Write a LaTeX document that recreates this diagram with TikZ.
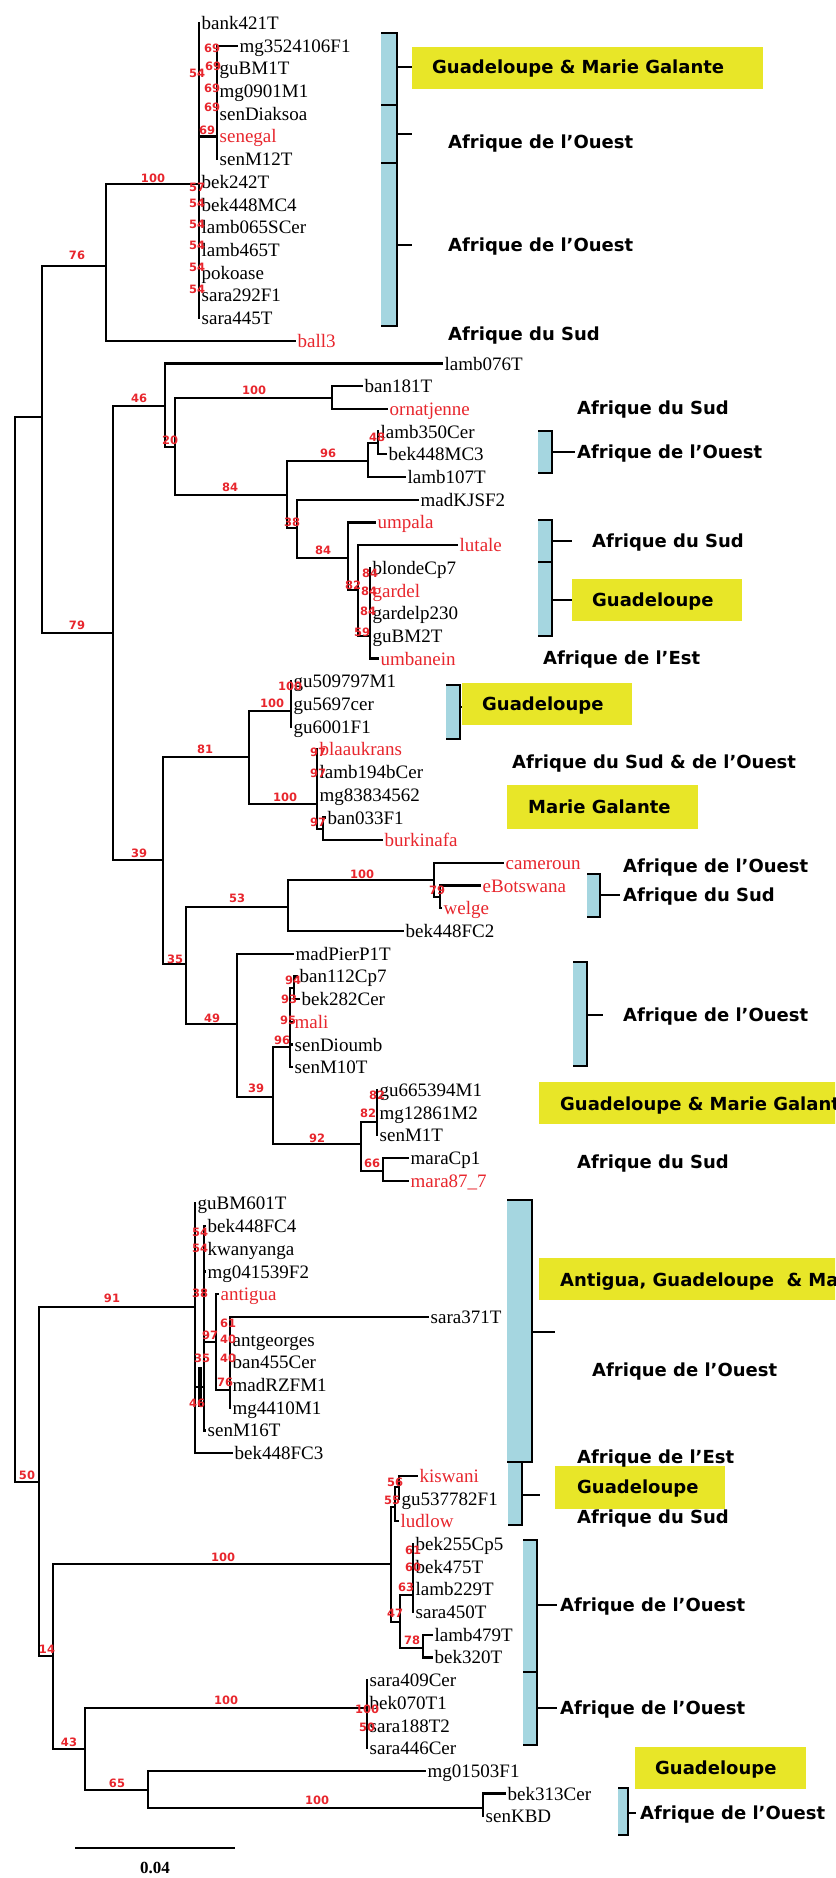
\documentclass[tikz,border=0pt]{standalone}
\usepackage{fontspec}
\setmainfont{Liberation Serif}
\newfontfamily\regfam{DejaVu Sans}
\definecolor{treered}{RGB}{232,38,45}
\definecolor{hlyellow}{RGB}{232,230,40}
\definecolor{barblue}{RGB}{165,214,224}
\newcommand\leaffont{\fontsize{19}{21}\selectfont}
\newcommand\tnode[4]{\coordinate (#1) at (#3,#4); \draw[branch] (#2 |- #1) -- (#1);}
\newcommand\tleaf[6]{\coordinate (#1) at (#3,#4); \draw[branch] (#2 |- #1) -- (#1); \node[leaflab,text=#5] (#1t) at (#1) {#6};}
\newcommand\tvert[3]{\draw[branch] (#1 |- #2) -- (#1 |- #3);}
\newcommand\bsv[4]{\node[bsval] (#1) at (#2,#3) {#4};}
\newcommand\tbrack[7]{%
  \fill[barblue] (#2,#4) rectangle (#3,#5);
  \draw[brk] (#2,#4) -- (#3,#4) -- (#3,#5) -- (#2,#5);
  \coordinate (#1) at (#3,#6); \coordinate (#1e) at (#7,#6);
  \draw[brk] (#1) -- (#1e);}
\tikzset{
  branch/.style={line width=2.3pt, line cap=rect},
  brk/.style={line width=2.2pt},
  leaflab/.style={anchor=west, inner xsep=2.5pt, inner ysep=0pt, text height=13pt, text depth=0pt, font=\leaffont},
  bsval/.style={inner sep=0pt, text=treered, text height=8.4pt, text depth=0pt, font=\regfam\bfseries\fontsize{11.5}{12}\selectfont},
  region/.style={anchor=west, inner sep=0pt, text height=13pt, text depth=0pt, font=\regfam\bfseries\fontsize{18}{20}\selectfont},
}
\begin{document}
\begin{tikzpicture}[x=1pt,y=-1pt]
\useasboundingbox (0,0) rectangle (835,1878);
\clip (0,0) rectangle (835,1878);
\fill[white] (0,0) rectangle (835,1878);
% ---------- internal nodes ----------
\coordinate (root) at (15,950);
\tnode{A}{root}{42}{417}
\tnode{AA}{root}{39}{1482}
\tnode{B}{A}{106}{266}
\tnode{D}{A}{113}{633}
\tnode{C}{B}{199}{184}
\tnode{K}{C}{217}{136.5}
\tnode{E}{D}{165}{406}
\tnode{L}{D}{163}{860}
\tnode{F}{E}{175}{447}
\tnode{G}{F}{332}{398}
\tnode{H}{F}{287}{495}
\tnode{I}{H}{368}{461}
\tnode{J}{I}{378}{443}
\tnode{O}{H}{297}{528}
\tnode{Oa}{O}{348}{558}
\tnode{Ob}{Oa}{358}{590}
\tnode{Oc}{Ob}{370}{636}
\tnode{M}{L}{249}{757}
\tnode{N}{L}{186}{964}
\tnode{P}{M}{291}{711}
\tnode{Q}{M}{317}{804}
\tnode{R}{Q}{323}{829}
\tnode{S}{N}{288}{907}
\tnode{T}{N}{237}{1024}
\tnode{U}{S}{434}{880}
\tnode{V}{U}{440}{897}
\tnode{X}{T}{273}{1097}
\tnode{Y}{X}{290}{1047}
\tnode{Ya}{Y}{294}{988}
\tnode{Z}{X}{361}{1144}
\tnode{Za}{Z}{377}{1122}
\tnode{Zb}{Z}{383}{1171}
\tnode{BB}{AA}{195}{1307}
\tnode{CC}{BB}{204}{1387}
\tnode{DD}{CC}{216}{1342}
\tnode{EE}{DD}{230}{1390}
\tnode{FF}{AA}{53}{1656}
\tnode{GG}{FF}{391}{1564}
\tnode{KK}{GG}{395}{1507}
\tnode{KL}{KK}{399}{1487}
\tnode{LL}{GG}{400}{1622}
\tnode{MM}{LL}{413}{1595}
\tnode{NN}{LL}{423}{1648}
\tnode{HH}{FF}{85}{1749}
\tnode{II}{HH}{367}{1708}
\tnode{JJ}{HH}{148}{1790}
\tnode{JK}{JJ}{483}{1808}
% ---------- leaves ----------
\tleaf{l1}{C}{199}{23.0}{black}{bank421T}
\tleaf{l2}{K}{237}{45.7}{black}{mg3524106F1}
\tleaf{l3}{K}{217}{68.4}{black}{guBM1T}
\tleaf{l4}{K}{217}{91.1}{black}{mg0901M1}
\tleaf{l5}{K}{217}{113.8}{black}{senDiaksoa}
\tleaf{l6}{K}{217}{136.5}{treered}{senegal}
\tleaf{l7}{K}{217}{159.2}{black}{senM12T}
\tleaf{l8}{C}{199}{181.9}{black}{bek242T}
\tleaf{l9}{C}{199}{204.6}{black}{bek448MC4}
\tleaf{l10}{C}{199}{227.3}{black}{lamb065SCer}
\tleaf{l11}{C}{199}{250.0}{black}{lamb465T}
\tleaf{l12}{C}{199}{272.7}{black}{pokoase}
\tleaf{l13}{C}{199}{295.4}{black}{sara292F1}
\tleaf{l14}{C}{199}{318.1}{black}{sara445T}
\tleaf{l15}{B}{295}{340.8}{treered}{ball3}
\tleaf{l16}{E}{442}{363.5}{black}{lamb076T}
\tleaf{l17}{G}{362}{386.2}{black}{ban181T}
\tleaf{l18}{G}{387}{408.9}{treered}{ornatjenne}
\tleaf{l19}{J}{378}{431.6}{black}{lamb350Cer}
\tleaf{l20}{J}{386}{454.3}{black}{bek448MC3}
\tleaf{l21}{I}{405}{477.0}{black}{lamb107T}
\tleaf{l22}{O}{418}{499.7}{black}{madKJSF2}
\tleaf{l23}{Oa}{375}{522.4}{treered}{umpala}
\tleaf{l24}{Ob}{457}{545.1}{treered}{lutale}
\tleaf{l25}{Oc}{370}{567.8}{black}{blondeCp7}
\tleaf{l26}{Oc}{370}{590.5}{treered}{gardel}
\tleaf{l27}{Oc}{370}{613.2}{black}{gardelp230}
\tleaf{l28}{Oc}{370}{635.9}{black}{guBM2T}
\tleaf{l29}{Oc}{378}{658.6}{treered}{umbanein}
\tleaf{l30}{P}{291}{681.3}{black}{gu509797M1}
\tleaf{l31}{P}{291}{704.0}{black}{gu5697cer}
\tleaf{l32}{P}{291}{726.7}{black}{gu6001F1}
\tleaf{l33}{Q}{317}{749.4}{treered}{blaaukrans}
\tleaf{l34}{Q}{317}{772.1}{black}{lamb194bCer}
\tleaf{l35}{Q}{317}{794.8}{black}{mg83834562}
\tleaf{l36}{R}{325}{817.5}{black}{ban033F1}
\tleaf{l37}{R}{382}{840.2}{treered}{burkinafa}
\tleaf{l38}{U}{503}{862.9}{treered}{cameroun}
\tleaf{l39}{V}{480}{885.6}{treered}{eBotswana}
\tleaf{l40}{V}{441}{908.3}{treered}{welge}
\tleaf{l41}{S}{403}{931.0}{black}{bek448FC2}
\tleaf{l42}{T}{293}{953.7}{black}{madPierP1T}
\tleaf{l43}{Ya}{297}{976.4}{black}{ban112Cp7}
\tleaf{l44}{Ya}{299}{999.1}{black}{bek282Cer}
\tleaf{l45}{Y}{292}{1021.8}{treered}{mali}
\tleaf{l46}{Y}{292}{1044.5}{black}{senDioumb}
\tleaf{l47}{Y}{292}{1067.2}{black}{senM10T}
\tleaf{l48}{Za}{377}{1089.9}{black}{gu665394M1}
\tleaf{l49}{Za}{377}{1112.6}{black}{mg12861M2}
\tleaf{l50}{Za}{377}{1135.3}{black}{senM1T}
\tleaf{l51}{Zb}{408}{1158.0}{black}{maraCp1}
\tleaf{l52}{Zb}{408}{1180.7}{treered}{mara87\_7}
\tleaf{l53}{BB}{195}{1203.4}{black}{guBM601T}
\tleaf{l54}{CC}{205}{1226.1}{black}{bek448FC4}
\tleaf{l55}{CC}{205}{1248.8}{black}{kwanyanga}
\tleaf{l56}{CC}{205}{1271.5}{black}{mg041539F2}
\tleaf{l57}{DD}{218}{1294.2}{treered}{antigua}
\tleaf{l58}{EE}{428}{1316.9}{black}{sara371T}
\tleaf{l59}{EE}{230}{1339.6}{black}{antgeorges}
\tleaf{l60}{EE}{230}{1362.3}{black}{ban455Cer}
\tleaf{l61}{EE}{230}{1385.0}{black}{madRZFM1}
\tleaf{l62}{EE}{230}{1407.7}{black}{mg4410M1}
\tleaf{l63}{CC}{205}{1430.4}{black}{senM16T}
\tleaf{l64}{BB}{232}{1453.1}{black}{bek448FC3}
\tleaf{l65}{KL}{417}{1475.8}{treered}{kiswani}
\tleaf{l66}{KL}{399}{1498.5}{black}{gu537782F1}
\tleaf{l67}{KK}{398}{1521.2}{treered}{ludlow}
\tleaf{l68}{MM}{413}{1543.9}{black}{bek255Cp5}
\tleaf{l69}{MM}{413}{1566.6}{black}{bek475T}
\tleaf{l70}{MM}{413}{1589.3}{black}{lamb229T}
\tleaf{l71}{MM}{413}{1612.0}{black}{sara450T}
\tleaf{l72}{NN}{432}{1634.7}{black}{lamb479T}
\tleaf{l73}{NN}{432}{1657.4}{black}{bek320T}
\tleaf{l74}{II}{367}{1680.1}{black}{sara409Cer}
\tleaf{l75}{II}{367}{1702.8}{black}{bek070T1}
\tleaf{l76}{II}{367}{1725.5}{black}{sara188T2}
\tleaf{l77}{II}{367}{1748.2}{black}{sara446Cer}
\tleaf{l78}{JJ}{425}{1770.9}{black}{mg01503F1}
\tleaf{l79}{JK}{505}{1793.6}{black}{bek313Cer}
\tleaf{l80}{JK}{483}{1816.3}{black}{senKBD}
% ---------- verticals ----------
\tvert{root}{A}{AA}
\tvert{A}{B}{D}
\tvert{B}{C}{l15}
\tvert{C}{l1}{l14}
\tvert{K}{l2}{l7}
\tvert{D}{E}{L}
\tvert{E}{l16}{F}
\tvert{F}{G}{H}
\tvert{G}{l17}{l18}
\tvert{H}{I}{O}
\tvert{I}{J}{l21}
\tvert{J}{l19}{l20}
\tvert{O}{l22}{Oa}
\tvert{Oa}{l23}{Ob}
\tvert{Ob}{l24}{Oc}
\tvert{Oc}{l25}{l29}
\tvert{L}{M}{N}
\tvert{M}{P}{Q}
\tvert{P}{l30}{l32}
\tvert{Q}{l33}{R}
\tvert{R}{l36}{l37}
\tvert{N}{S}{T}
\tvert{S}{U}{l41}
\tvert{U}{l38}{V}
\tvert{V}{l39}{l40}
\tvert{T}{l42}{X}
\tvert{X}{Y}{Z}
\tvert{Y}{Ya}{l47}
\tvert{Ya}{l43}{l44}
\tvert{Z}{Za}{Zb}
\tvert{Za}{l48}{l50}
\tvert{Zb}{l51}{l52}
\tvert{AA}{BB}{FF}
\tvert{BB}{l53}{l64}
\tvert{CC}{l54}{l63}
\tvert{DD}{l57}{EE}
\tvert{EE}{l58}{l62}
\tvert{FF}{GG}{HH}
\tvert{GG}{KK}{LL}
\tvert{KK}{KL}{l67}
\tvert{KL}{l65}{l66}
\tvert{LL}{MM}{NN}
\tvert{MM}{l68}{l71}
\tvert{NN}{l72}{l73}
\tvert{HH}{II}{JJ}
\tvert{II}{l74}{l77}
\tvert{JJ}{l78}{JK}
\tvert{JK}{l79}{l80}
\coordinate (tb1) at (200,1367); \coordinate (tb2) at (200,1407);
\draw[line width=3.8pt] (tb1) -- (tb2);
% ---------- bootstrap values ----------
\bsv{b1}{77}{255}{76}
\bsv{b2}{153}{178}{100}
\bsv{b3}{212}{48}{69}
\bsv{b4}{213}{66}{69}
\bsv{b5}{197}{73}{54}
\bsv{b6}{212}{88}{69}
\bsv{b7}{212}{107}{69}
\bsv{b8}{207}{130}{69}
\bsv{b9}{197}{187}{57}
\bsv{b10}{197}{203}{54}
\bsv{b11}{197}{224}{54}
\bsv{b12}{197}{245}{54}
\bsv{b13}{197}{267}{54}
\bsv{b14}{197}{289}{54}
\bsv{b15}{77}{625}{79}
\bsv{b16}{139}{398}{46}
\bsv{b17}{170}{440}{20}
\bsv{b18}{254}{390}{100}
\bsv{b19}{230}{487}{84}
\bsv{b20}{328}{453}{96}
\bsv{b21}{377}{437}{48}
\bsv{b22}{292}{522}{38}
\bsv{b23}{323}{550}{84}
\bsv{b24}{370}{573}{84}
\bsv{b25}{353}{585}{82}
\bsv{b26}{369}{591}{84}
\bsv{b27}{368}{611}{84}
\bsv{b28}{362}{632}{59}
\bsv{b29}{205}{749}{81}
\bsv{b30}{272}{703}{100}
\bsv{b31}{290}{686}{100}
\bsv{b32}{285}{797}{100}
\bsv{b33}{318}{752}{97}
\bsv{b34}{318}{773}{97}
\bsv{b35}{318}{822}{97}
\bsv{b36}{139}{853}{39}
\bsv{b37}{237}{898}{53}
\bsv{b38}{175}{959}{35}
\bsv{b39}{362}{874}{100}
\bsv{b40}{437}{890}{79}
\bsv{b41}{212}{1018}{49}
\bsv{b42}{293}{980}{94}
\bsv{b43}{289}{999}{93}
\bsv{b44}{288}{1020}{95}
\bsv{b45}{282}{1040}{96}
\bsv{b46}{256}{1088}{39}
\bsv{b47}{317}{1138}{92}
\bsv{b48}{377}{1095}{82}
\bsv{b49}{368}{1113}{82}
\bsv{b50}{372}{1163}{66}
\bsv{b51}{112}{1298}{91}
\bsv{b52}{200}{1232}{54}
\bsv{b53}{200}{1248}{54}
\bsv{b54}{200}{1293}{38}
\bsv{b55}{228}{1323}{61}
\bsv{b56}{210}{1335}{97}
\bsv{b57}{228}{1339}{40}
\bsv{b58}{202}{1358}{35}
\bsv{b59}{228}{1358}{40}
\bsv{b60}{225}{1382}{76}
\bsv{b61}{197}{1403}{46}
\bsv{b62}{27}{1475}{50}
\bsv{b63}{47}{1649}{14}
\bsv{b64}{223}{1557}{100}
\bsv{b65}{395}{1482}{56}
\bsv{b66}{392}{1500}{55}
\bsv{b67}{413}{1550}{61}
\bsv{b68}{413}{1567}{60}
\bsv{b69}{406}{1587}{63}
\bsv{b70}{395}{1613}{47}
\bsv{b71}{412}{1640}{78}
\bsv{b72}{69}{1742}{43}
\bsv{b73}{226}{1700}{100}
\bsv{b74}{367}{1709}{100}
\bsv{b75}{367}{1727}{50}
\bsv{b76}{117}{1783}{65}
\bsv{b77}{317}{1800}{100}
% ---------- scale bar ----------
\coordinate (sbl) at (75,1848); \coordinate (sbr) at (235,1848);
\draw[line width=2.5pt] (sbl) -- (sbr);
\node[font=\bfseries\fontsize{17}{19}\selectfont, inner sep=0pt] (sbt) at (155,1868) {0.04};
% ---------- brackets ----------
\tbrack{k1}{381}{397}{33}{105}{67}{412}
\tbrack{k2}{381}{397}{105}{163}{134}{412}
\tbrack{k3}{381}{397}{163}{326}{245}{412}
\tbrack{k4}{538}{552}{431}{473}{452}{575}
\tbrack{k5}{538}{552}{520}{562}{541}{572}
\tbrack{k6}{538}{552}{562}{636}{600}{572}
\tbrack{k7}{446}{460}{685}{739}{707}{464}
\tbrack{k8}{587}{600}{874}{917}{895}{620}
\tbrack{k9}{573}{587}{962}{1066}{1015}{603}
\tbrack{k10}{507}{532}{1200}{1462}{1332}{555}
\tbrack{k11}{508}{522}{1462}{1525}{1495}{540}
\tbrack{k12}{523}{537}{1540}{1672}{1605}{557}
\tbrack{k13}{523}{537}{1672}{1745}{1708}{557}
\tbrack{k14}{618}{628}{1788}{1835}{1813}{636}
% ---------- yellow boxes ----------
\fill[hlyellow] (412,47) rectangle (763,89);
\fill[hlyellow] (572,579) rectangle (742,621);
\fill[hlyellow] (462,683) rectangle (632,725);
\fill[hlyellow] (507,785) rectangle (698,829);
\fill[hlyellow] (539,1082) rectangle (845,1124);
\fill[hlyellow] (539,1258) rectangle (845,1300);
\fill[hlyellow] (555,1466) rectangle (725,1509);
\fill[hlyellow] (635,1747) rectangle (806,1789);
% ---------- region labels ----------
\node[region] (r1) at (432,67) {Guadeloupe \& Marie Galante};
\node[region] (r2) at (448,142) {Afrique de l’Ouest};
\node[region] (r3) at (448,245) {Afrique de l’Ouest};
\node[region] (r4) at (448,334) {Afrique du Sud};
\node[region] (r5) at (577,408) {Afrique du Sud};
\node[region] (r6) at (577,452) {Afrique de l’Ouest};
\node[region] (r7) at (592,541) {Afrique du Sud};
\node[region] (r8) at (592,600) {Guadeloupe};
\node[region] (r9) at (543,658) {Afrique de l’Est};
\node[region] (r10) at (482,704) {Guadeloupe};
\node[region] (r11) at (512,762) {Afrique du Sud \& de l’Ouest};
\node[region] (r12) at (528,807) {Marie Galante};
\node[region] (r13) at (623,866) {Afrique de l’Ouest};
\node[region] (r14) at (623,895) {Afrique du Sud};
\node[region] (r15) at (623,1015) {Afrique de l’Ouest};
\node[region] (r16) at (560,1104) {Guadeloupe \& Marie Galante};
\node[region] (r17) at (577,1162) {Afrique du Sud};
\node[region] (r18) at (560,1280) {Antigua, Guadeloupe\ \ \& Marie Galante};
\node[region] (r19) at (592,1370) {Afrique de l’Ouest};
\node[region] (r20) at (577,1457) {Afrique de l’Est};
\node[region] (r21) at (577,1487) {Guadeloupe};
\node[region] (r22) at (577,1517) {Afrique du Sud};
\node[region] (r23) at (560,1605) {Afrique de l’Ouest};
\node[region] (r24) at (560,1708) {Afrique de l’Ouest};
\node[region] (r25) at (655,1768) {Guadeloupe};
\node[region] (r26) at (640,1813) {Afrique de l’Ouest};
\end{tikzpicture}
\end{document}
